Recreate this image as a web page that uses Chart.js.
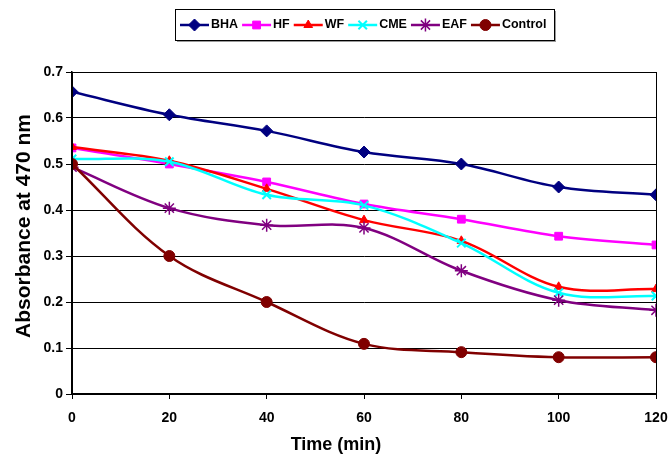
<!DOCTYPE html>
<html>
<head>
<meta charset="utf-8">
<script src="https://cdn.jsdelivr.net/npm/chart.js@4"></script>
<style>
html,body{margin:0;padding:0;background:#fff;}
canvas{display:block;}
</style>
</head>
<body>
<canvas id="c" width="671" height="458"></canvas>
<script>
const times = [0, 20, 40, 60, 80, 100, 120];
const seriesNames = ['BHA', 'HF', 'WF', 'CME', 'EAF', 'Control'];
const bha     = [0.657, 0.607, 0.572, 0.526, 0.500, 0.450, 0.433];
const hf      = [0.535, 0.500, 0.461, 0.413, 0.380, 0.343, 0.324];
const wf      = [0.537, 0.507, 0.446, 0.378, 0.333, 0.233, 0.228];
const cme     = [0.511, 0.505, 0.433, 0.410, 0.328, 0.220, 0.213];
const eaf     = [0.493, 0.404, 0.367, 0.361, 0.268, 0.204, 0.182];
const control = [0.500, 0.300, 0.200, 0.109, 0.091, 0.080, 0.080];
const yTickLabels = ['0', '0.1', '0.2', '0.3', '0.4', '0.5', '0.6', '0.7'];
const xTickLabels = ['0', '20', '40', '60', '80', '100', '120'];
const xTitle = 'Time (min)';
const yTitle = 'Absorbance at 470 nm';

const values = [bha, hf, wf, cme, eaf, control];
const colors = ['#000080', '#FF00FF', '#FF0000', '#00FFFF', '#800080', '#800000'];
const pstyles = ['rectRot', 'rect', 'triangle', 'crossRot', 'star', 'circle'];
const pradius = [6, 5.5, 5, 6, 6.5, 5.5];
const pborder = [1, 1, 1, 2, 1.5, 1];

const FONT = '"Liberation Sans", Arial, sans-serif';

const datasets = values.map((v, i) => ({
  label: seriesNames[i],
  data: v.map((y, j) => ({x: times[j], y: y})),
  borderColor: colors[i],
  backgroundColor: colors[i],
  borderWidth: 2.5,
  pointStyle: pstyles[i],
  pointRadius: pradius[i],
  pointBorderWidth: pborder[i],
  pointBackgroundColor: colors[i],
  pointBorderColor: colors[i],
  tension: 0.35,
  order: 5 - i
}));

const frameLegend = {
  id: 'frameLegend',
  afterDatasetsDraw(chart) {
    const ctx = chart.ctx, a = chart.chartArea;
    ctx.save();
    ctx.strokeStyle = '#000';
    ctx.lineWidth = 1;
    ctx.strokeRect(Math.round(a.left) + 0.5, Math.round(a.top) + 0.5, Math.round(a.right - a.left), Math.round(a.bottom - a.top));
    ctx.restore();
  },
  afterDraw(chart) {
    const ctx = chart.ctx;
    ctx.save();
    // axis titles
    ctx.fillStyle = '#000';
    ctx.textAlign = 'center';
    ctx.textBaseline = 'middle';
    ctx.font = 'bold 18px ' + FONT;
    ctx.fillText(xTitle, 336, 445);
    ctx.save();
    ctx.translate(24, 226);
    ctx.rotate(-Math.PI / 2);
    ctx.font = 'bold 21px ' + FONT;
    ctx.fillText(yTitle, 0, 0);
    ctx.restore();
    // legend box with shadow
    const bx = 175, by = 9, bw = 379, bh = 31;
    ctx.fillStyle = '#9a9a9a';
    ctx.fillRect(bx + 2, by + 2, bw, bh);
    ctx.fillStyle = '#fff';
    ctx.fillRect(bx, by, bw, bh);
    ctx.strokeStyle = '#000';
    ctx.lineWidth = 1;
    ctx.strokeRect(bx + 0.5, by + 0.5, bw, bh);
    ctx.font = 'bold 12.5px ' + FONT;
    ctx.textAlign = 'left';
    ctx.textBaseline = 'middle';
    const cy = by + bh / 2 + 0.5;
    let x = bx + 5;
    chart.data.datasets.forEach((ds, i) => {
      ctx.strokeStyle = ds.borderColor;
      ctx.lineWidth = 2.5;
      ctx.beginPath();
      ctx.moveTo(x, cy);
      ctx.lineTo(x + 29, cy);
      ctx.stroke();
      ctx.fillStyle = ds.borderColor;
      ctx.strokeStyle = ds.borderColor;
      ctx.lineWidth = ds.pointBorderWidth;
      Chart.helpers.drawPoint(ctx, {pointStyle: ds.pointStyle, radius: ds.pointRadius, borderWidth: ds.pointBorderWidth, rotation: 0}, x + 14.5, cy);
      ctx.fillStyle = '#000';
      ctx.fillText(ds.label, x + 31, cy);
      x += 31 + ctx.measureText(ds.label).width + 4;
    });
    ctx.restore();
  }
};

new Chart(document.getElementById('c'), {
  type: 'line',
  data: {datasets},
  plugins: [frameLegend],
  options: {
    responsive: false,
    animation: false,
    layout: {padding: {top: 72, right: 15, left: 0, bottom: 0}},
    plugins: {legend: {display: false}, tooltip: {enabled: false}},
    scales: {
      x: {
        type: 'linear', min: 0, max: 120,
        afterFit(s) { s.height = 64; s.paddingLeft = 0; s.paddingRight = 0; },
        ticks: {
          stepSize: 20, color: '#000', padding: 11,
          font: {family: FONT, size: 14, weight: 'bold'},
          callback: (v, i) => xTickLabels[i]
        },
        grid: {drawOnChartArea: false, drawTicks: true, tickLength: 5, color: '#000'},
        border: {display: true, color: '#000', width: 1.5}
      },
      y: {
        min: 0, max: 0.7,
        afterFit(s) { s.width = 72; s.paddingTop = 0; s.paddingBottom = 0; },
        ticks: {
          stepSize: 0.1, color: '#000', padding: 3,
          font: {family: FONT, size: 14, weight: 'bold'},
          callback: (v, i) => yTickLabels[i]
        },
        grid: {color: '#000', lineWidth: 1, tickLength: 6},
        border: {display: true, color: '#000', width: 1.5}
      }
    }
  }
});
</script>
</body>
</html>
